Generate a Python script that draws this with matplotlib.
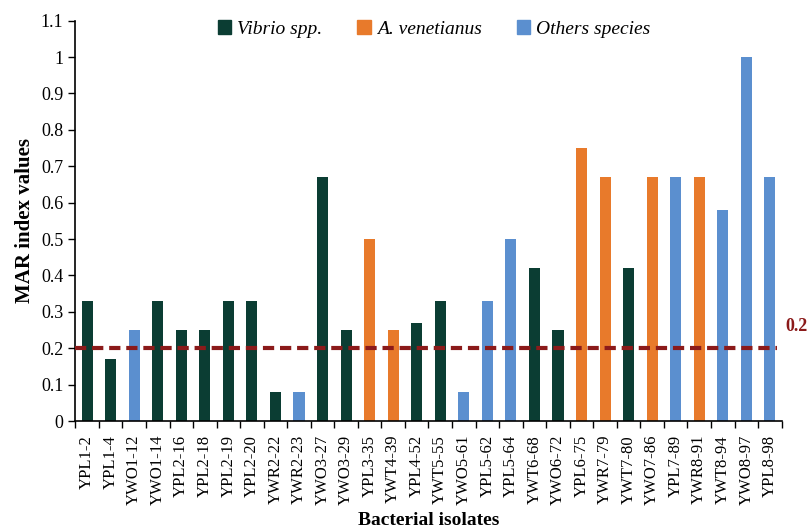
import matplotlib.pyplot as plt
from matplotlib.patches import Patch
import numpy as np

plt.rcParams['font.family'] = ['Liberation Serif', 'DejaVu Serif']

# Data
isolates = ["YPL1-2", "YPL1-4", "YWO1-12", "YWO1-14", "YPL2-16", "YPL2-18",
            "YPL2-19", "YPL2-20", "YWR2-22", "YWR2-23", "YWO3-27", "YWO3-29",
            "YPL3-35", "YWT4-39", "YPL4-52", "YWT5-55", "YWO5-61", "YPL5-62",
            "YPL5-64", "YWT6-68", "YWO6-72", "YPL6-75", "YWR7-79", "YWT7-80",
            "YWO7-86", "YPL7-89", "YWR8-91", "YWT8-94", "YWO8-97", "YPL8-98"]
mar_values = [0.33, 0.17, 0.25, 0.33, 0.25, 0.25, 0.33, 0.33, 0.08, 0.08,
              0.67, 0.25, 0.50, 0.25, 0.27, 0.33, 0.08, 0.33, 0.50, 0.42,
              0.25, 0.75, 0.67, 0.42, 0.67, 0.67, 0.67, 0.58, 1.00, 0.67]
groups = ["V", "V", "O", "V", "V", "V", "V", "V", "V", "O",
          "V", "V", "A", "A", "V", "V", "O", "O", "O", "V",
          "V", "A", "A", "V", "A", "O", "A", "O", "O", "O"]
threshold = 0.2

colors = {"V": "#0b3d33", "A": "#e87a2b", "O": "#5b8fcf"}
labels = {"V": "Vibrio spp.", "A": "A. venetianus", "O": "Others species"}

fig = plt.figure(figsize=(8.10, 5.29), dpi=100)
ax = fig.add_axes([0.093, 0.204, 0.872, 0.757])

x = np.arange(len(isolates))
ax.bar(x, mar_values, width=0.47, color=[colors[g] for g in groups], zorder=2)

# threshold line stops just short of the axis end
ax.plot([-0.5, len(isolates) - 0.7], [threshold, threshold], color="#8b1a1a",
        linestyle=(0, (2.7, 1.4)), linewidth=3, zorder=3, clip_on=False)
ax.text(len(isolates) - 0.5 + 0.15, threshold + 0.06, "0.2", color="#8b1a1a",
        fontsize=13, fontweight="bold", va="center", ha="left")

ax.set_xlim(-0.5, len(isolates) - 0.5)
ax.set_ylim(0, 1.1)
ax.set_yticks(np.arange(0, 1.11, 0.1))
ax.set_yticklabels(["0", "0.1", "0.2", "0.3", "0.4", "0.5", "0.6", "0.7",
                    "0.8", "0.9", "1", "1.1"], fontsize=13)
ax.set_xticks(x)
ax.set_xticklabels(isolates, rotation=90, fontsize=12)
ax.tick_params(axis="x", length=0, pad=10)
ax.set_xticks(np.arange(-0.5, len(isolates), 1), minor=True)
ax.tick_params(axis="x", which="minor", length=5, width=1, direction="out")
ax.tick_params(axis="y", length=5, width=1, direction="out")

for s in ["top", "right"]:
    ax.spines[s].set_visible(False)
ax.spines["left"].set_linewidth(1.2)
ax.spines["bottom"].set_linewidth(1.2)

ax.set_ylabel("MAR index values", fontsize=15, fontweight="bold")
ax.set_xlabel("Bacterial isolates", fontsize=14, fontweight="bold", labelpad=5)

handles = [Patch(color=colors[k], label=labels[k]) for k in ["V", "A", "O"]]
leg = ax.legend(handles=handles, loc="upper center", bbox_to_anchor=(0.508, 1.045),
                ncol=3, frameon=False, handlelength=0.7, handleheight=0.7,
                handletextpad=0.3, columnspacing=1.8,
                prop={"style": "italic", "size": 14})

plt.savefig("out.png", dpi=100)
